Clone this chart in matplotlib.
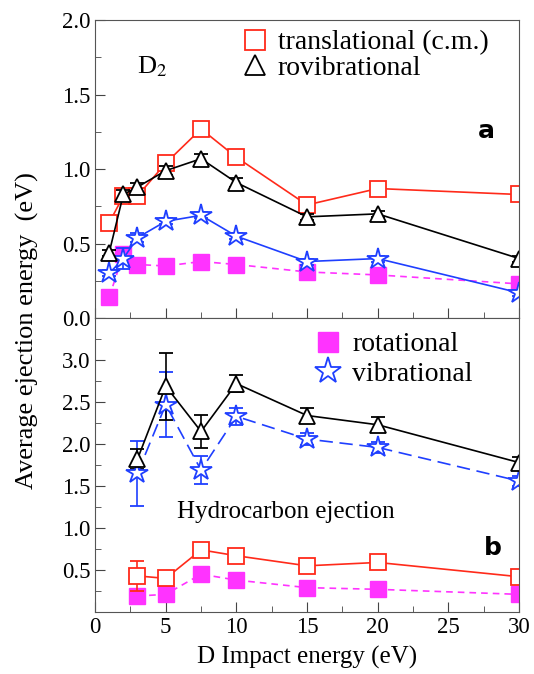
import matplotlib
matplotlib.use("Agg")
import matplotlib.pyplot as plt
from matplotlib.ticker import MultipleLocator
from matplotlib.lines import Line2D

plt.rcParams['font.family'] = ['Liberation Serif', 'DejaVu Serif']
plt.rcParams['mathtext.fontset'] = 'stix'

# panel a: D2 ejection
xa = [1, 2, 3, 5, 7.5, 10, 15, 20, 30]
trans_a = [0.64, 0.82, 0.82, 1.04, 1.27, 1.08, 0.76, 0.87, 0.83]
rovib_a = [0.44, 0.83, 0.88, 0.99, 1.07, 0.91, 0.68, 0.70, 0.40]
rovib_a_err = [0.02, 0.03, 0.03, 0.03, 0.03, 0.03, 0.02, 0.02, 0.02]
vib_a = [0.30, 0.40, 0.54, 0.65, 0.69, 0.55, 0.38, 0.40, 0.17]
vib_a_err = [0.02, 0.07, 0.03, 0.02, 0.02, 0.02, 0.02, 0.02, 0.02]
rot_a = [0.14, 0.43, 0.36, 0.35, 0.38, 0.36, 0.31, 0.29, 0.23]

# panel b: hydrocarbon ejection
xb = [3, 5, 7.5, 10, 15, 20, 30]
trans_b = [0.43, 0.40, 0.74, 0.67, 0.55, 0.59, 0.42]
trans_b_err = [0.18, 0.0, 0.0, 0.0, 0.0, 0.0, 0.0]
rovib_b = [1.82, 2.69, 2.15, 2.72, 2.34, 2.23, 1.78]
rovib_b_err = [0.12, 0.40, 0.20, 0.10, 0.09, 0.09, 0.07]
vib_b = [1.65, 2.47, 1.69, 2.33, 2.06, 1.96, 1.56]
vib_b_err = [0.39, 0.39, 0.17, 0.10, 0.07, 0.07, 0.06]
rot_b = [0.19, 0.21, 0.45, 0.38, 0.29, 0.27, 0.21]

red = '#ff2a1a'
mag = '#ff33ff'
blue = '#1f3fff'

fig = plt.figure(figsize=(5.34, 6.74), dpi=100)
ax1 = fig.add_axes([0.178, 0.528, 0.794, 0.442])
ax2 = fig.add_axes([0.178, 0.092, 0.794, 0.436])

# top panel
ax1.plot(xa, rot_a, '--', color=mag, lw=1.2, marker='s', ms=11, mfc=mag, mec=mag, dashes=(4, 3))
ax1.errorbar(xa, vib_a, yerr=vib_a_err, color=blue, lw=1.2, marker='*', ms=16,
             mfc='white', mec=blue, mew=1.3, capsize=5)
ax1.plot(xa, trans_a, '-', color=red, lw=1.2, marker='s', ms=11, mfc='white', mec=red, mew=1.3)
ax1.errorbar(xa, rovib_a, yerr=rovib_a_err, color='black', lw=1.2, marker='^', ms=12,
             mfc='white', mec='black', mew=1.3, capsize=5)
ax1.set_ylim(0, 2.0)
ax1.set_yticks([0.0, 0.5, 1.0, 1.5, 2.0])
ax1.set_yticklabels(['0.0', '0.5', '1.0', '1.5', '2.0'])
ax1.tick_params(labelbottom=False)
ax1.text(3.0, 1.64, r'D$_2$', fontsize=19)
ax1.text(27.1, 1.21, 'a', fontsize=18, fontweight='bold', family='DejaVu Sans')

# bottom panel
ax2.plot(xb, rot_b, '--', color=mag, lw=1.2, marker='s', ms=11, mfc=mag, mec=mag, dashes=(4, 3))
ax2.errorbar(xb, vib_b, yerr=vib_b_err, color=blue, lw=1.2, marker='*', ms=16,
             mfc='white', mec=blue, mew=1.3, capsize=5, dashes=(8, 4))
ax2.errorbar(xb, trans_b, yerr=trans_b_err, color=red, lw=1.2, marker='s', ms=11,
             mfc='white', mec=red, mew=1.3, capsize=5)
ax2.errorbar(xb, rovib_b, yerr=rovib_b_err, color='black', lw=1.2, marker='^', ms=12,
             mfc='white', mec='black', mew=1.3, capsize=5)
ax2.set_ylim(0, 3.5)
ax2.set_yticks([0.5, 1.0, 1.5, 2.0, 2.5, 3.0])
ax2.set_yticklabels(['0.5', '1.0', '1.5', '2.0', '2.5', '3.0'])
ax2.set_xticks([0, 5, 10, 15, 20, 25, 30])
ax2.text(5.8, 1.12, 'Hydrocarbon ejection', fontsize=18)
ax2.text(27.5, 0.68, 'b', fontsize=18, fontweight='bold', family='DejaVu Sans')
ax2.set_xlabel('D Impact energy (eV)', fontsize=18, labelpad=6)

# legends (markers only)
leg_a = [Line2D([], [], ls='none', marker='s', ms=14, mfc='white', mec=red, mew=1.3),
         Line2D([], [], ls='none', marker='^', ms=15, mfc='white', mec='black', mew=1.3)]
fig.legend(leg_a, ['translational (c.m.)', 'rovibrational'], loc='upper left',
           bbox_to_anchor=(241 / 534, 1 - 30 / 674), frameon=False, fontsize=20,
           handletextpad=0.33, handlelength=1.0, labelspacing=0.0, borderpad=0, borderaxespad=0)
leg_b = [Line2D([], [], ls='none', marker='s', ms=15, mfc=mag, mec=mag),
         Line2D([], [], ls='none', marker='*', ms=20, mfc='white', mec=blue, mew=1.3)]
fig.legend(leg_b, ['rotational', 'vibrational'], loc='upper left',
           bbox_to_anchor=(314 / 534, 1 - 332 / 674), frameon=False, fontsize=20,
           handletextpad=0.37, handlelength=1.0, labelspacing=0.15, borderpad=0, borderaxespad=0)

for ax in (ax1, ax2):
    ax.set_xlim(0, 30)
    ax.xaxis.set_major_locator(MultipleLocator(5))
    ax.xaxis.set_minor_locator(MultipleLocator(2.5))
    ax.yaxis.set_minor_locator(MultipleLocator(0.25))
    ax.tick_params(which='both', direction='in', labelsize=16.5, color='#444444')
    ax.tick_params(which='major', length=7)
    ax.tick_params(which='minor', length=4)
    for s in ax.spines.values():
        s.set_color('#555555')

fig.text(0.052, 0.509, 'Average ejection energy  (eV)', rotation=90, va='center', ha='center',
         fontsize=19)

fig.savefig('out.png', dpi=100)
